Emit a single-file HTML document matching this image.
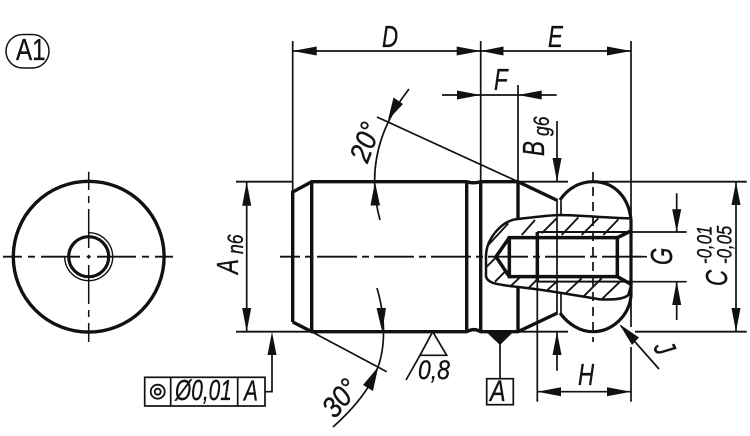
<!DOCTYPE html>
<html><head><meta charset="utf-8">
<style>
html,body{margin:0;padding:0;background:#fff;width:750px;height:436px;overflow:hidden}
svg{display:block}
text{font-family:"Liberation Sans",sans-serif;fill:#111;stroke:#111;stroke-width:.35}
.i{font-style:italic}
</style></head><body>
<svg width="750" height="436" viewBox="0 0 750 436" xmlns="http://www.w3.org/2000/svg">
<g fill="none" stroke="#111" stroke-width="1.7">
<!-- A1 -->
<rect x="6" y="34.5" width="43" height="33.5" rx="16.7" ry="16.7" stroke-width="1.5"/>
<!-- extension lines -->
<path d="M292.7 41V192M480.7 41V181M631 41V327M631 347V401.7M518 85V181M537.3 232V401.7"/>
<path d="M236 181.7H293M518 181.7H568M593 181.7H746.7M236 331.7H312M518 331.7H568M635 331.7H746.7" stroke-width="1.8"/>
<!-- dimension lines -->
<path d="M292.7 51H631M442 95H556.7M537.3 391.7H631M246.7 181.7V331.7M736 181.7V331.7"/>
<path d="M557 121V181.7M557 200V313M557 331.7V370.7M561 200.5V215M561 293V313M676.7 193.3V232M676.7 281V320M631 232H686.7M631 281.7H686.7M633 256.7H647"/>
<!-- angles -->
<path d="M377 117L518 181.7M311.7 331.7L386.7 371.7"/>
<path d="M409 89Q361 150 380 220M377 288C385 315 386 345 378 367C370 390 352 410 333 427"/>
<!-- leader J -->
<path d="M621 326L659 369"/>
<!-- datum -->
<path d="M500 343V379M272 340V391.7H265"/>
<rect x="486.7" y="378.7" width="26.6" height="26"/>
<rect x="144.7" y="377.3" width="120.3" height="28.7"/>
<path d="M170.7 377.3V406M237.7 377.3V406"/>
<circle cx="157.7" cy="391.7" r="7" stroke-width="1.8"/>
<circle cx="157.7" cy="391.7" r="3" stroke-width="1.8"/>
<!-- roughness -->
<path d="M432.7 331.7L420 355.3H446.7L432.7 331.7M420 355.3L406 380"/>
<!-- centre lines -->
<path d="M280 256.7H647" stroke-dasharray="40 5 7 5" stroke-dashoffset="20" stroke-width="1.8"/>
<path d="M593 172V342" stroke-dasharray="9 6"/>
<path d="M3 256.7H22M28 256.7H35M41 256.7H80M86.7 256.7H90.7M97 256.7H136M142 256.7H149M155 256.7H173" stroke-width="1.8"/>
<path d="M88.7 171.7V190M88.7 196V203M88.7 209V248M88.7 254.7V258.7M88.7 265V304M88.7 310V317M88.7 323V342" stroke-width="1.5"/>
<!-- left view -->
<circle cx="88.7" cy="256.7" r="75.4" stroke-width="3.4"/>
<circle cx="88.7" cy="256.7" r="20" stroke-width="3.2"/>
<path d="M88.7 232.7A24 24 0 1 1 64.7 256.7" stroke-width="1.4"/>
<!-- body -->
<g stroke-width="3.4">
<path d="M292.7 322V192L311.7 181.7H466.7Q474 184 480.7 181.7H518L557.5 200.5"/>
<path d="M292.7 322L311.7 331.7H466.7Q474 327.5 480.7 331.7H518L557.5 313"/>
<path d="M311.7 181.7V331.7M466.7 181.7V331.7M480.7 181.7V331.7M518 181.7V218M518 287V331.7"/>
<path d="M560 200C568 188 580 181.7 593 181.7C615 181.7 629 198 631 220V296C629 316 612 331.7 593 331.7C580 331.7 568 324 560 313" stroke-width="3.2"/>
</g>
<!-- section, drawn in 3x coordinates -->
<g transform="translate(460 170) scale(.33333)">
<path d="M510 145C430 143 370 136 300 135C260 136 210 143 165 148C125 156 78 205 78 260V320C85 340 105 342 165 350C240 358 300 368 420 388C460 390 490 388 505 375L515 340" stroke-width="7.5"/>
<path d="M148 203H472V320H148ZM148 203L108 260L148 320M472 203L512 183M472 320L512 342" stroke-width="10.5"/>
<path d="M232 186V335" stroke-width="10.5"/>
<path d="M232 186H510M232 335H510" stroke-width="6"/>
<g stroke-width="5.5">
<path d="M185 195L225 150M245 190L290 145M305 195L355 142M365 195L415 145M430 195L475 148"/>
<path d="M150 350L180 322M205 355L235 325M260 362L290 335M315 372L365 325M370 380L425 325M425 388L480 335"/>
<path d="M85 225L145 160M80 290L110 260M105 335L135 305"/>
</g>
</g>
</g>
<!-- arrowheads -->
<g fill="#111">
<polygon points="292.7,51 316.7,46.5 316.7,55.5"/>
<polygon points="480.7,51 456.7,46.5 456.7,55.5"/>
<polygon points="480.7,51 503.5,46.5 503.5,55.5"/>
<polygon points="631,51 607,46.5 607,55.5"/>
<polygon points="480.7,95 457,90.5 457,99.5"/>
<polygon points="518,95 541.7,90.5 541.7,99.5"/>
<polygon points="537.3,391.7 561,387.2 561,396.2"/>
<polygon points="631,391.7 607,387.2 607,396.2"/>
<polygon points="246.7,181.7 242.2,205.7 251.2,205.7"/>
<polygon points="246.7,331.7 242.2,308 251.2,308"/>
<polygon points="736,181.7 731.5,205 740.5,205"/>
<polygon points="736,331.7 731.5,308 740.5,308"/>
<polygon points="557,181.7 552.5,158 561.5,158"/>
<polygon points="557,331.7 552.5,355 561.5,355"/>
<polygon points="676.7,232 672.2,209.3 681.2,209.3"/>
<polygon points="676.7,281 672.2,305 681.2,305"/>
<polygon points="272,331.7 267.5,355 276.5,355"/>
<polygon points="388,120 393.5,97.5 403,104"/>
<polygon points="375,181.7 370.5,205.5 380,205.5"/>
<polygon points="382.2,331.7 376.5,308 386,308"/>
<polygon points="378.3,366.7 363,385 373,391"/>
<polygon points="619.3,324 639,337.5 632,345"/>
<polygon points="486,331.7 513.5,331.7 500,345"/>
</g>
<!-- labels -->
<text font-size="31" transform="translate(16 60) scale(.78 1)">A1</text>
<text class="i" font-size="31" transform="translate(382 47) scale(.72 1)">D</text>
<text class="i" font-size="31" transform="translate(548 47) scale(.72 1)">E</text>
<text class="i" font-size="31" transform="translate(494 90) scale(.72 1)">F</text>
<text class="i" font-size="31" transform="translate(578 385) scale(.72 1)">H</text>
<text class="i" font-size="31" transform="translate(544 156) rotate(-90) scale(.72 1)">B</text>
<text class="i" font-size="22" transform="translate(549 136) rotate(-90) scale(.8 1)">g6</text>
<text class="i" font-size="31" transform="translate(238 274) rotate(-90) scale(.72 1)">A</text>
<text class="i" font-size="22" transform="translate(243 254) rotate(-90) scale(.8 1)">n6</text>
<text class="i" font-size="31" transform="translate(672 265) rotate(-90) scale(.72 1)">G</text>
<text class="i" font-size="31" transform="translate(727 286) rotate(-90) scale(.72 1)">C</text>
<text class="i" font-size="21" transform="translate(711.7 264) rotate(-90) scale(.8 1)">-0,01</text>
<text class="i" font-size="21" transform="translate(731.7 264) rotate(-90) scale(.8 1)">-0,05</text>
<text class="i" font-size="29" text-anchor="middle" transform="translate(365 142) rotate(-70) scale(.9 1) translate(0 10)">20°</text>
<text class="i" font-size="29" text-anchor="middle" transform="translate(340 398) rotate(-50) scale(.9 1) translate(0 10)">30°</text>
<text class="i" font-size="27" transform="translate(418 379) scale(.85 1)">0,8</text>
<text class="i" font-size="29" transform="translate(175 400) scale(.72 1)">Ø0,01</text>
<text class="i" font-size="29" transform="translate(244 400.7) scale(.72 1)">A</text>
<text class="i" font-size="30" transform="translate(653 347) rotate(65) scale(.75 1)">J</text>
<text class="i" font-size="30" transform="translate(490 401) scale(.78 1)">A</text>
</svg>
</body></html>
